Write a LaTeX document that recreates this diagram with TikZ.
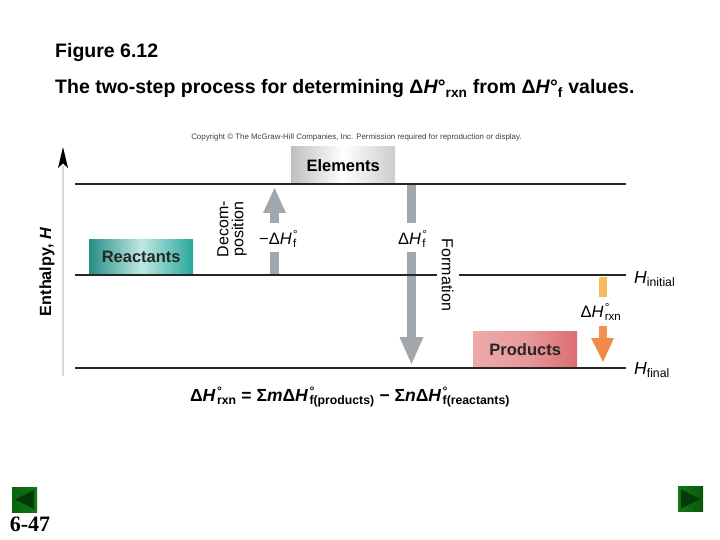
\documentclass[tikz,border=0pt]{standalone}
\usepackage{fontspec}
\setmainfont{Liberation Sans}
\newfontfamily\timesf{Liberation Serif}
\definecolor{arrgray}{HTML}{A0A7AD}
\definecolor{orlight}{HTML}{F8BC5E}
\definecolor{ordark}{HTML}{F28A4A}
\definecolor{tealdark}{HTML}{2AA89C}
\definecolor{teallight}{HTML}{BFE8E2}
\definecolor{pinkdark}{HTML}{DC6E72}
\definecolor{pinklight}{HTML}{F3B9B9}
\definecolor{navgreen}{HTML}{0E7A12}
\definecolor{navdark}{HTML}{053A06}
\newcommand{\dH}[1]{Δ\textit{H}\kern0.08em\rlap{\textsuperscript{°}}\textsubscript{#1}}
\begin{document}
\begin{tikzpicture}[x=1pt,y=-1pt,
  levelline/.style={line width=1.4pt,black!85},
  boxlabel/.style={font=\bfseries\fontsize{16.5}{18}\selectfont,inner sep=0pt,minimum width=104pt,minimum height=36pt},
  sidetext/.style={font=\fontsize{16}{15}\selectfont,inner sep=0pt,align=center},
  arrowlabel/.style={font=\fontsize{16.5}{18}\selectfont,inner sep=0pt},
  navbox/.style={minimum size=25pt,inner sep=0pt},
  headtext/.style={anchor=base west,inner sep=0pt,font=\bfseries\fontsize{19.5}{22}\selectfont},
  hlabel/.style={anchor=west,inner sep=0pt,font=\fontsize{17.5}{18}\selectfont},
]
\useasboundingbox (0,0) rectangle (720,540);

% header
\node[headtext] (fig) at (55,57.5) {Figure 6.12};
\node[headtext] (title) at (55,94)
  {The two-step process for determining Δ\textit{H}°\textsubscript{rxn} from Δ\textit{H}°\textsubscript{f} values.};
\node[inner sep=0pt,font=\fontsize{7.9}{9}\selectfont,text=black!75] (copy) at (356.5,137)
  {Copyright © The McGraw-Hill Companies, Inc. Permission required for reproduction or display.};

% axis
\coordinate (axbot) at (63,376);
\coordinate (axtop) at (63,147);
\draw[black!15,line width=1.2pt] (axbot) -- (63,166);
\fill[black] (axtop) -- (68,168) -- (63,163.5) -- (58,168) -- cycle;
\node[rotate=90,inner sep=0pt,font=\bfseries\fontsize{16.2}{18}\selectfont] (enth) at (47,272) {Enthalpy, \textit{H}};

% boxes
\shade[left color=black!25,right color=black!20,middle color=white] (291,147) rectangle (395,183);
\node[boxlabel,anchor=north west] (elem) at (291,147) {Elements};
\shade[left color=tealdark!85!black,right color=tealdark,middle color=teallight] (89,239) rectangle (193,275);
\node[boxlabel,anchor=north west,text=black!85] (react) at (89,239) {Reactants};
\shade[left color=pinklight!80!pinkdark,right color=pinkdark,middle color=pinkdark!70!white] (473,331) rectangle (577,368);
\node[boxlabel,anchor=north west,minimum height=37pt,text=black!85] (prod) at (473,331) {Products};

% up arrow (decomposition)
\fill[arrgray] (270,275) rectangle (279,252);
\fill[arrgray] (270,223) rectangle (279,212);
\fill[arrgray] (263,213) -- (286,213) -- (274.5,188) -- cycle;
\node[arrowlabel] (dhfup) at (278,239) {−\dH{f}};
\node[sidetext,rotate=90] (decomp) at (232,229) {Decom-\\position};

% down arrow (formation)
\fill[arrgray] (407,183) rectangle (416,223);
\fill[arrgray] (407,252) rectangle (416,338);
\fill[arrgray] (399.5,337) -- (423.5,337) -- (411.5,364) -- cycle;
\node[arrowlabel] (dhfdown) at (412,239) {\dH{f}};
\node[sidetext,rotate=-90] (form) at (447.5,275) {Formation};

% orange arrow
\fill[orlight] (599,277) rectangle (607,297);
\fill[ordark!85!orlight] (599,326) rectangle (607,339);
\fill[ordark] (591,338) -- (614,338) -- (603,362) -- cycle;
\node[arrowlabel] (dhrxn) at (601,312) {\dH{rxn}};

% level lines
\coordinate (l1a) at (75,184); \coordinate (l1b) at (626,184);
\coordinate (l2a) at (75,275); \coordinate (l2g) at (437,275);
\coordinate (l2h) at (459,275); \coordinate (l2b) at (626,275);
\coordinate (l3a) at (75,368); \coordinate (l3b) at (626,368);
\draw[levelline] (l1a) -- (l1b);
\draw[levelline] (l2a) -- (l2g);
\draw[levelline] (l2h) -- (l2b);
\draw[levelline] (l3a) -- (l3b);
\node[hlabel] (hini) at (634,279) {\textit{H}\textsubscript{initial}};
\node[hlabel] (hfin) at (634,370) {\textit{H}\textsubscript{final}};

% equation
\node[inner sep=0pt,font=\bfseries\fontsize{17.5}{19}\selectfont] (eq) at (350,397)
  {\dH{rxn} = Σ\textit{m}\dH{f(products)} − Σ\textit{n}\dH{f(reactants)}};

% navigation
\node[navbox,left color=navgreen!80!black,right color=navgreen] (prev) at (24.5,499.5) {};
\fill[navdark] ([xshift=-3pt,yshift=-3pt]prev.north east) -- ([xshift=3pt]prev.west) -- ([xshift=-3pt,yshift=3pt]prev.south east) -- cycle;
\node[navbox,left color=navgreen,right color=navgreen!70!black] (next) at (690.5,499) {};
\fill[navdark] ([xshift=3pt,yshift=-3pt]next.north west) -- ([xshift=-3pt]next.east) -- ([xshift=3pt,yshift=3pt]next.south west) -- cycle;
\node[inner sep=0pt,font=\timesf\bfseries\fontsize{22}{24}\selectfont] (pg) at (30,524) {6-47};
\end{tikzpicture}
\end{document}
